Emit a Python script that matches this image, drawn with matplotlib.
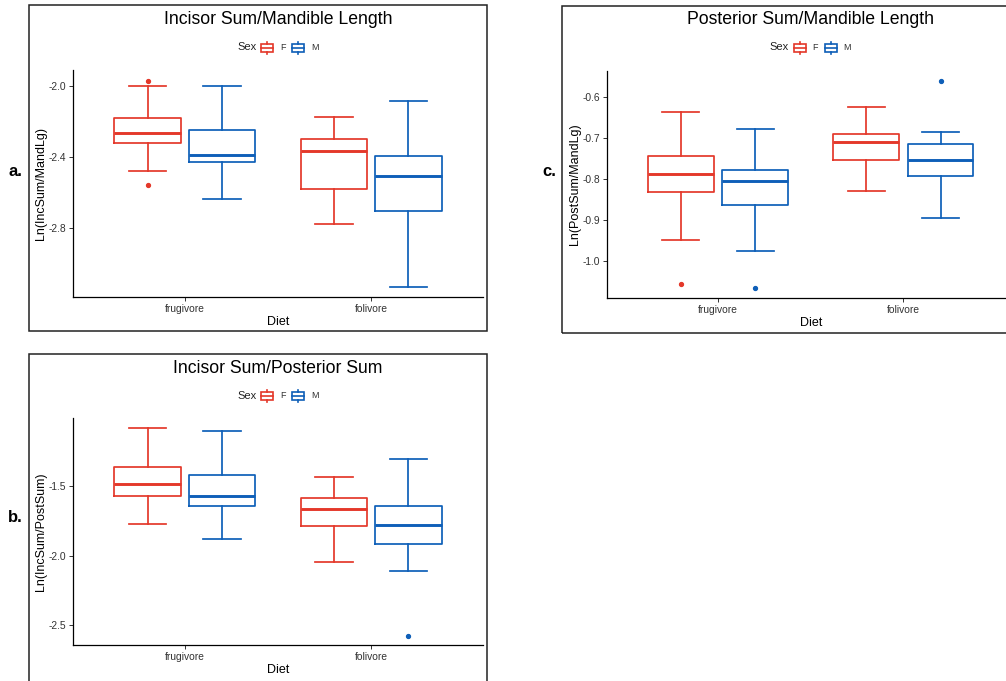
import matplotlib
matplotlib.use("Agg")
import matplotlib.pyplot as plt
from matplotlib.patches import Rectangle
from matplotlib.lines import Line2D

plt.rcParams['font.family'] = ['Liberation Sans', 'DejaVu Sans']

W, H = 1006, 681
RED = '#E4382A'
BLUE = '#0E5FB8'

diet = ["frugivore", "folivore"]
sexes = ["F", "M"]

# each box: [whislo, q1, med, q3, whishi], one per diet
inc_mand_F = [[-2.479, -2.321, -2.262, -2.181, -2.000], [-2.776, -2.581, -2.364, -2.299, -2.172]]
inc_mand_M = [[-2.636, -2.430, -2.387, -2.250, -2.000], [-3.129, -2.701, -2.508, -2.393, -2.086]]
inc_mand_F_out = [[-1.970, -2.559], []]
inc_mand_M_out = [[], []]

post_mand_F = [[-0.949, -0.833, -0.789, -0.746, -0.6365], [-0.830, -0.755, -0.710, -0.691, -0.625]]
post_mand_M = [[-0.9765, -0.8645, -0.807, -0.7785, -0.6795], [-0.897, -0.794, -0.755, -0.715, -0.686]]
post_mand_F_out = [[-1.056], []]
post_mand_M_out = [[-1.067], [-0.561]]

inc_post_F = [[-1.775, -1.569, -1.483, -1.364, -1.086], [-2.048, -1.789, -1.663, -1.589, -1.433]]
inc_post_M = [[-1.883, -1.646, -1.569, -1.423, -1.105], [-2.110, -1.916, -1.780, -1.644, -1.304]]
inc_post_F_out = [[], []]
inc_post_M_out = [[], [-2.574]]


def fx(x):
    return x / W


def fy(y):
    return 1 - y / H


fig = plt.figure(figsize=(W / 100, H / 100), dpi=100)


def panel(box, frame, title, cx, ty, ly, ylabel, yticks, ylim, F, M, Fo, Mo, tag, tagpos):
    l, r, t, b = box
    ax = fig.add_axes([fx(l), fy(b), (r - l) / W, (b - t) / H])
    fl, fr, ft, fb = frame
    fig.add_artist(Rectangle((fx(fl), fy(fb)), (fr - fl) / W, (fb - ft) / H,
                             transform=fig.transFigure, fill=False, lw=1.1, ec='#222222'))
    for vals, outs, col, off in [(F, Fo, RED, -0.2), (M, Mo, BLUE, 0.2)]:
        stats = []
        for v, o in zip(vals, outs):
            stats.append(dict(whislo=v[0], q1=v[1], med=v[2], q3=v[3], whishi=v[4], fliers=o))
        ax.bxp(stats, positions=[1 + off, 2 + off], widths=0.355, capwidths=0.2,
               manage_ticks=False,
               boxprops=dict(color=col, lw=1.25),
               whiskerprops=dict(color=col, lw=1.25),
               capprops=dict(color=col, lw=1.25),
               medianprops=dict(color=col, lw=2.1),
               flierprops=dict(marker='o', markerfacecolor=col, markeredgecolor=col,
                               markersize=2.8, lw=0))
    ax.set_xlim(0.4, 2.6)
    ax.set_ylim(*ylim)
    ax.set_xticks([1, 2])
    ax.set_xticklabels(diet)
    ax.set_yticks(yticks)
    ax.set_yticklabels(['%.1f' % v for v in yticks])
    for s in ['top', 'right']:
        ax.spines[s].set_visible(False)
    for s in ['left', 'bottom']:
        ax.spines[s].set_linewidth(0.9)
    ax.tick_params(labelsize=7.4, labelcolor='#333333', color='#333333', length=3, width=0.7, pad=2)
    ax.set_ylabel(ylabel, fontsize=9, va='center')
    ax.yaxis.set_label_coords(-32 / (r - l), 0.5)
    ax.set_xlabel('Diet', fontsize=9, va='center')
    ax.xaxis.set_label_coords(0.5, -25 / (b - t))
    fig.text(fx(cx), fy(ty), title, fontsize=12.7, ha='center', va='center')
    # legend
    fig.text(fx(cx - 41), fy(ly), 'Sex', fontsize=8, ha='left', va='center', color='#222222')
    for k0, col, lab in [(cx - 17, RED, 'F'), (cx + 14, BLUE, 'M')]:
        fig.add_artist(Rectangle((fx(k0), fy(ly + 4)), 12 / W, 8 / H, transform=fig.transFigure,
                                 fill=False, ec=col, lw=1.2))
        fig.add_artist(Line2D([fx(k0), fx(k0 + 12)], [fy(ly), fy(ly)], transform=fig.transFigure,
                              color=col, lw=1.2))
        fig.add_artist(Line2D([fx(k0 + 6), fx(k0 + 6)], [fy(ly - 6), fy(ly - 4)], transform=fig.transFigure,
                              color=col, lw=1.2))
        fig.add_artist(Line2D([fx(k0 + 6), fx(k0 + 6)], [fy(ly + 4), fy(ly + 6)], transform=fig.transFigure,
                              color=col, lw=1.2))
        fig.text(fx(k0 + 19), fy(ly), lab, fontsize=6.5, ha='left', va='center', color='#333333')
    fig.text(fx(tagpos[0]), fy(tagpos[1]), tag, fontsize=12, fontweight='bold', ha='center', va='center')
    return ax


panel((73, 483, 70, 297), (29, 487, 5, 331), 'Incisor Sum/Mandible Length', 278, 20, 47.5,
      'Ln(IncSum/MandLg)', [-2.0, -2.4, -2.8], (-3.187, -1.91),
      inc_mand_F, inc_mand_M, inc_mand_F_out, inc_mand_M_out, 'a.', (15, 172))

panel((606.7, 1014.7, 70.7, 298), (562, 1012, 5.7, 333), 'Posterior Sum/Mandible Length', 810.7, 20, 47.5,
      'Ln(PostSum/MandLg)', [-0.6, -0.7, -0.8, -0.9, -1.0], (-1.091, -0.537),
      post_mand_F, post_mand_M, post_mand_F_out, post_mand_M_out, 'c.', (549, 172))

panel((73, 483, 418.3, 645), (29, 487, 354, 690), 'Incisor Sum/Posterior Sum', 278, 368.3, 396,
      'Ln(IncSum/PostSum)', [-1.5, -2.0, -2.5], (-2.641, -1.014),
      inc_post_F, inc_post_M, inc_post_F_out, inc_post_M_out, 'b.', (15, 518))

fig.savefig('out.png', dpi=100)
